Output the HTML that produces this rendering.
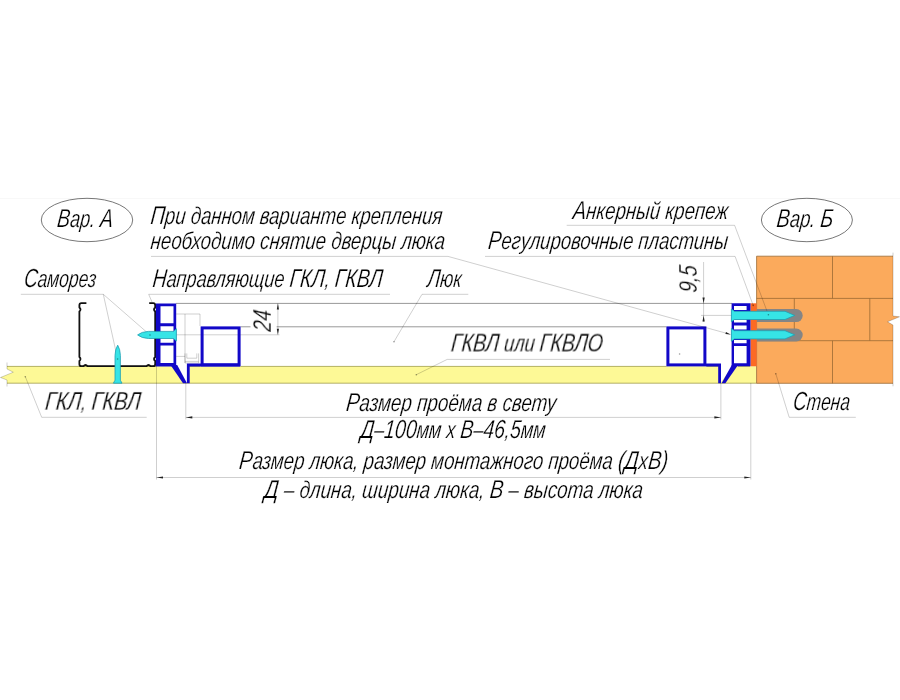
<!DOCTYPE html>
<html lang="ru"><head><meta charset="utf-8"><title>Схема монтажа люка</title>
<style>html,body{margin:0;padding:0;background:#fff}body{width:900px;height:700px;overflow:hidden}svg{display:block}text{font-family:"Liberation Sans","DejaVu Sans",sans-serif;font-style:italic;fill:#000;stroke:#fff;stroke-width:.25px}.t{stroke:#000;stroke-opacity:.27;stroke-width:.7;fill:none}.o{stroke:#000;stroke-opacity:.45;stroke-width:.9;fill:none}.k{stroke:#111;stroke-width:1.8;fill:none;stroke-linejoin:round}.b{stroke:#1208c8;fill:none;stroke-linejoin:miter}</style></head><body>
<svg width="900" height="700" viewBox="0 0 900 700">
<rect width="900" height="700" fill="#fff"/>
<rect y="198" width="900" height="1" fill="#f8f8f8"/>
<path d="M7,366.3 L156,366.3 L177,366.3 L186,383.3 L188.5,383.3 L188.5,366.3 L720,366.3 L720,383.3 L733,366.3 L756.6,366.3 L756.6,383.3 L7,383.3 L7,380 L0.5,377.5 L13.3,372.2 L7,369 Z" fill="#fdf996"/>
<path d="M7,366.4 H156 M189.5,366.4 H200 M240.6,366.4 H666.4 M707,366.4 H718.5 M738,366.4 H750 M7,383.2 H756.6" fill="none" stroke="#8f8c3c" stroke-opacity=".75" stroke-width=".9"/>
<path class="t" d="M7,362.5 V369 L13.3,372.2 L0.5,377.5 L7,380 V386.5"/>
<path d="M756.6,256.2 H893 V316 L899.5,316.8 L887.5,321.8 L893,325 V383.3 H756.6 Z" fill="#fbaa5c"/>
<path d="M756.6,383.3 V256.2 H893 M756.6,383.3 H893 M756.6,298.4 H893 M756.6,340.7 H893 M832.5,256.2 V298.4 M794.3,298.4 V340.7 M869.8,298.4 V340.7 M832.5,340.7 V383.3" stroke="#9a6a34" stroke-width=".8" fill="none"/>
<path class="t" d="M893,252.6 V316 L899.5,316.8 L887.5,321.8 L893,325 V386.3"/>
<path d="M756.6,309.1 H796.2 A6.5,6.5 0 0 1 796.2,322.1 H756.6 Z" fill="#858585"/>
<path d="M756.6,328.5 H796.2 A6.5,6.5 0 0 1 796.2,341.5 H756.6 Z" fill="#858585"/>
<rect x="750.5" y="303.3" width="6.2" height="63" fill="#fc6a24"/>
<path class="o" d="M176,303.4 H732 M240.6,326.8 H250.5 M276.6,326.8 H666.4"/>
<path class="t" d="M176,334.8 H279.5 M277.9,303.4 V334.8"/>
<path class="t" d="M176.2,314 H200 V326 M185,314 V363 M176.2,356.4 H185 M185,353.4 V363 H198.6 V353.4 M186.8,353.4 V358.2 H196.8 V353.4 M185,361.4 H198.6"/>
<path class="t" d="M701,315.4 H732 M703.6,262 V322"/>
<path class="k" d="M86.4,303.2 H81.4 Q79.4,303.2 79.4,305.2 V307.5 Q81.6,309.5 79.4,311.5 V357 Q81.6,359 79.4,361 V364.2 Q79.4,366.2 81.4,366.2 H83.5 Q85.5,363.8 87.5,366.2 H146.5 Q148.5,363.8 150.5,366.2 H153.2 Q155.2,366.2 155.2,364.2 V361 Q152.8,359 155.2,357 V311.5 Q152.8,309.5 155.2,307.5 V305.2 Q155.2,303.2 153.2,303.2 H149.2"/>
<path d="M155.9,303.4 H176.2 V366.4 H155.9 Z M160.5,306.2 V323.3 H173.5 V306.2 Z M160.5,326.3 V342.7 H173.5 V326.3 Z M160.5,345.6 V363 H173.5 V345.6 Z" fill="#1208c8" fill-rule="evenodd"/>
<path d="M170.5,365 L177.2,365 L187,383.3 L183,383.3 Z" fill="#1208c8"/>
<path class="b" d="M188.3,383.3 V365 H240" stroke-width="2.8"/>
<rect class="b" x="202.1" y="327.9" width="37" height="37" stroke-width="3"/>
<path d="M731.6,303.3 H750.5 V366.3 H731.6 Z M734,306.1 V310 H746.6 V306.1 Z M734,319.6 V322.6 H746.6 V319.6 Z M734,325.4 V329.6 H746.6 V325.4 Z M734,340 V343.2 H746.6 V340 Z M734,346 V363.3 H746.6 V346 Z" fill="#1208c8" fill-rule="evenodd"/>
<path d="M738,365 L731.8,365 L721.6,383.3 L725.4,383.3 Z" fill="#1208c8"/>
<path class="b" d="M719.6,383.3 V365 H706" stroke-width="2.8"/>
<rect class="b" x="667.9" y="327.9" width="37" height="37" stroke-width="3"/>
<path class="t" d="M20.8,294.3 H103.3 L117.6,359 M103.3,294.3 L150,335 M151,256.4 H448 L730.5,334.4 M390,294.3 H148.7 L152,302 M468.3,294.3 H422 L394,341.7 M566.7,225.3 H734.6 L768.4,314.8 M485,256.4 H735.1 L753.2,305.4 M610,359.4 H447.2 L416.3,374.7 M146.7,417.3 H41.7 L25.3,376.7 M855.8,417.3 H789.2 L775.8,373.8 M185.8,383 V419.5 M720.9,383 V419.5 M185.8,417.4 H720.9 M156.5,366 V479.5 M750.8,383 V479.5 M156.5,477.5 H750.8"/>
<path d="M176.4,328.8 L173.4,331.4 H148.5 Q141.5,331.7 137.6,334.9 Q141.5,338.2 148.5,338.5 H173.4 L176.4,341 Z" fill="#36e4e6" stroke="#1f9fb2" stroke-width=".8"/>
<path d="M113.4,383.2 L115,380.2 V355.5 Q115.2,349 117.7,345.2 Q120.2,349 120.4,355.5 V380.2 L122,383.2 Z" fill="#36e4e6" stroke="#1f9fb2" stroke-width=".8"/>
<path d="M731.4,309.0 L734.4,311.3 H785 L794.7,315.4 L785,319.5 H734.4 L731.4,321.8 Z" fill="#36e4e6" stroke="#1f9fb2" stroke-width=".8"/>
<path d="M731.4,328.4 L734.4,330.7 H785 L794.7,334.8 L785,338.9 H734.4 L731.4,341.2 Z" fill="#36e4e6" stroke="#1f9fb2" stroke-width=".8"/>
<circle cx="117.6" cy="359" r=".8" fill="#000" fill-opacity=".4"/>
<circle cx="150" cy="335" r=".8" fill="#000" fill-opacity=".4"/>
<circle cx="394" cy="341.7" r=".8" fill="#000" fill-opacity=".4"/>
<circle cx="768.4" cy="314.8" r=".8" fill="#000" fill-opacity=".4"/>
<circle cx="753.2" cy="305.4" r=".8" fill="#000" fill-opacity=".4"/>
<circle cx="416.3" cy="374.7" r=".8" fill="#000" fill-opacity=".4"/>
<circle cx="25.3" cy="376.7" r=".8" fill="#000" fill-opacity=".4"/>
<circle cx="775.8" cy="373.8" r=".8" fill="#000" fill-opacity=".4"/>
<circle cx="679.6" cy="354" r=".8" fill="#000" fill-opacity=".4"/>
<path d="M185.8,417.4 L192.3,416.3 L192.3,418.5 Z" fill="#222"/>
<path d="M720.9,417.4 L714.4,418.5 L714.4,416.3 Z" fill="#222"/>
<path d="M156.5,477.5 L163.0,476.4 L163.0,478.6 Z" fill="#222"/>
<path d="M750.8,477.5 L744.3,478.6 L744.3,476.4 Z" fill="#222"/>
<path d="M277.9,303.4 L279.0,309.4 L276.8,309.4 Z" fill="#222"/>
<path d="M277.9,334.8 L276.8,328.8 L279.0,328.8 Z" fill="#222"/>
<path d="M703.6,303.6 L702.5,297.6 L704.7,297.6 Z" fill="#222"/>
<path d="M703.6,315.4 L704.7,321.4 L702.5,321.4 Z" fill="#222"/>
<path d="M730.5,334.4 L725.42,333.96 L725.98,332.04 Z" fill="#222"/>
<ellipse cx="87" cy="220" rx="45.7" ry="21.7" fill="none" stroke="#555" stroke-width=".8"/>
<ellipse cx="806.9" cy="220" rx="45.5" ry="21.7" fill="none" stroke="#555" stroke-width=".8"/>
<g style="filter:grayscale(1)">
<text transform="translate(56.6,227.3) skewX(-6)" font-size="24.3" textLength="55.8" lengthAdjust="spacingAndGlyphs"><tspan font-size="26">В</tspan>ар. <tspan font-size="26">А</tspan></text>
<text transform="translate(150,223.8) skewX(-6)" font-size="24.3" textLength="291.7" lengthAdjust="spacingAndGlyphs"><tspan font-size="26">П</tspan>ри данном варианте крепления</text>
<text transform="translate(150,249.3) skewX(-6)" font-size="24.3" textLength="294.5" lengthAdjust="spacingAndGlyphs">необходимо снятие дверцы люка</text>
<text transform="translate(23.4,286.8) skewX(-6)" font-size="24.3" textLength="72.3" lengthAdjust="spacingAndGlyphs"><tspan font-size="26">С</tspan>аморез</text>
<text transform="translate(152,286.8) skewX(-6)" font-size="24.3" textLength="230.0" lengthAdjust="spacingAndGlyphs"><tspan font-size="26">Н</tspan>аправляющие <tspan font-size="26">ГКЛ</tspan>, <tspan font-size="26">ГКВЛ</tspan></text>
<text transform="translate(426.8,286.8) skewX(-6)" font-size="24.3" textLength="34.2" lengthAdjust="spacingAndGlyphs"><tspan font-size="26">Л</tspan>юк</text>
<text transform="translate(572.2,218.6) skewX(-6)" font-size="24.3" textLength="155.3" lengthAdjust="spacingAndGlyphs"><tspan font-size="26">А</tspan>нкерный крепеж</text>
<text transform="translate(487.6,249.4) skewX(-6)" font-size="24.3" textLength="239.8" lengthAdjust="spacingAndGlyphs"><tspan font-size="26">Р</tspan>егулировочные пластины</text>
<text transform="translate(776.0,227.2) skewX(-6)" font-size="24.3" textLength="56.7" lengthAdjust="spacingAndGlyphs"><tspan font-size="26">В</tspan>ар. <tspan font-size="26">Б</tspan></text>
<text transform="translate(450.5,351.7) skewX(-6)" font-size="24.3" textLength="151.7" lengthAdjust="spacingAndGlyphs"><tspan font-size="26">ГКВЛ</tspan> или <tspan font-size="26">ГКВЛО</tspan></text>
<text transform="translate(44.6,410) skewX(-6)" font-size="24.3" textLength="95.4" lengthAdjust="spacingAndGlyphs"><tspan font-size="26">ГКЛ</tspan>, <tspan font-size="26">ГКВЛ</tspan></text>
<text transform="translate(792.6,410) skewX(-6)" font-size="24.3" textLength="56.7" lengthAdjust="spacingAndGlyphs"><tspan font-size="26">С</tspan>тена</text>
<text transform="translate(345.4,410.5) skewX(-6)" font-size="24.3" textLength="210.3" lengthAdjust="spacingAndGlyphs"><tspan font-size="26">Р</tspan>азмер проёма в свету</text>
<text transform="translate(359.9,438) skewX(-6)" font-size="24.3" textLength="185.1" lengthAdjust="spacingAndGlyphs"><tspan font-size="26">Д</tspan>–<tspan font-size="26">100</tspan>мм х <tspan font-size="26">В</tspan>–<tspan font-size="26">46</tspan>,<tspan font-size="26">5</tspan>мм</text>
<text transform="translate(238.6,469.4) skewX(-6)" font-size="24.3" textLength="428.8" lengthAdjust="spacingAndGlyphs"><tspan font-size="26">Р</tspan>азмер люка, размер монтажного проёма <tspan font-size="26">(Д</tspan>х<tspan font-size="26">В)</tspan></text>
<text transform="translate(263.8,498.4) skewX(-6)" font-size="24.3" textLength="378.5" lengthAdjust="spacingAndGlyphs"><tspan font-size="26">Д</tspan> – длина, ширина люка, <tspan font-size="26">В</tspan> – высота люка</text>
<text transform="translate(271,332) rotate(-90) skewX(-5)" font-size="26" textLength="21.5" lengthAdjust="spacingAndGlyphs">24</text>
<text transform="translate(697,293) rotate(-90) skewX(-5)" font-size="25" textLength="27" lengthAdjust="spacingAndGlyphs">9,5</text>
</g>
</svg></body></html>
